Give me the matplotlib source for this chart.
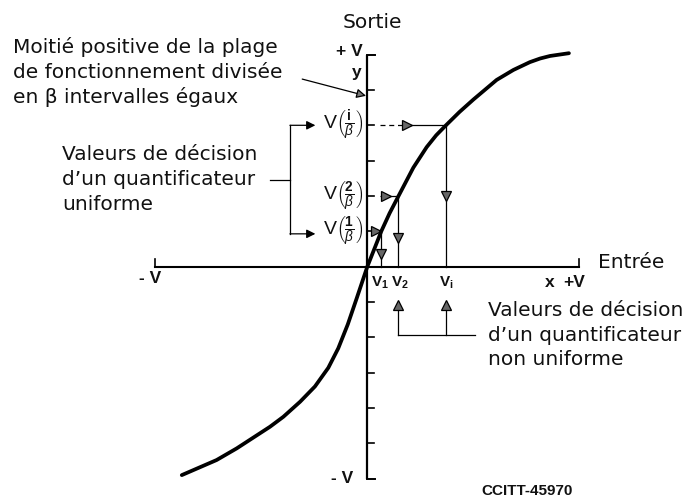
import matplotlib
matplotlib.use("Agg")
import matplotlib.pyplot as plt

# ---------------- data (units of V) ----------------
curve_x = [-0.875, -0.711, -0.616, -0.459, -0.396, -0.317, -0.247, -0.184, -0.137, -0.092, -0.050, 0.0,
           0.066, 0.105, 0.147, 0.217, 0.280, 0.325, 0.371, 0.435, 0.501, 0.610, 0.689, 0.767,
           0.815, 0.862, 0.951]
curve_y = [-0.983, -0.912, -0.857, -0.755, -0.708, -0.637, -0.565, -0.477, -0.385, -0.272, -0.149, 0.0,
           0.167, 0.252, 0.333, 0.467, 0.564, 0.620, 0.667, 0.730, 0.789, 0.881, 0.928, 0.965,
           0.982, 0.994, 1.007]
beta_intervals = 6
decision_levels = [1, 2, 4]
decision_level_names = ["1", "2", "i"]
decision_x = [0.066, 0.147, 0.371]

# ---------------- layout ----------------
plt.rcParams['mathtext.fontset'] = 'custom'
plt.rcParams['mathtext.rm'] = 'Liberation Sans'
plt.rcParams['mathtext.it'] = 'Liberation Sans:italic'
plt.rcParams['mathtext.bf'] = 'Liberation Sans:bold'

fig = plt.figure(figsize=(6.82, 4.97), dpi=100)
ax = fig.add_axes([0, 0, 1, 1])
ax.set_xlim(-1.7325, 1.4844)
ax.set_ylim(-1.0863, 1.2580)
ax.axis('off')

K = 'black'
TXT = dict(family='DejaVu Sans', fontsize=14.5, color='#111111')
LAB = dict(family='Liberation Sans', fontweight='bold', fontsize=12.5, color='#111111')
SUBLAB = dict(family='Liberation Sans', fontweight='bold', fontsize=11, color='#111111')

# axes
ax.plot([0, 0], [-1, 1], color=K, lw=1.6, solid_capstyle='butt')
ax.plot([0, 0.035], [1, 1], color=K, lw=1.4)
ax.plot([0, 0.035], [-1, -1], color=K, lw=1.4)
for k in range(-beta_intervals + 1, beta_intervals):
    if k != 0:
        ax.plot([0, 0.032], [k / beta_intervals] * 2, color=K, lw=1.2)
ax.plot([-1, 1], [0, 0], color=K, lw=1.5)
ax.plot([-1, -1], [0, 0.035], color=K, lw=1.2)
ax.plot([1, 1], [0, 0.035], color=K, lw=1.2)

# curve
ax.plot(curve_x, curve_y, color=K, lw=2.7, solid_joinstyle='round', solid_capstyle='round', zorder=5)

# decision construction lines
h_arrow_x = [0.042, 0.090, 0.188]
v_arrow_y = [0.060, 0.135, 0.335]
dash_start = 0.058
for lvl, xd, hx, vy in zip(decision_levels, decision_x, h_arrow_x, v_arrow_y):
    y = lvl / beta_intervals
    if hx - 0.02 > dash_start:
        ax.plot([dash_start, hx - 0.02], [y, y], color=K, lw=0.9, ls=(0, (4, 3)))
    ax.plot([hx, xd], [y, y], color=K, lw=0.9)
    ax.plot([hx], [y], marker='>', ms=7, mfc='#666666', mec=K, mew=0.9)
    ax.plot([xd, xd], [y, 0], color=K, lw=0.9)
    ax.plot([xd], [vy], marker='v', ms=7, mfc='#666666', mec=K, mew=0.9)

# lower "non uniforme" bracket
for xd in decision_x[1:]:
    ax.plot([xd, xd], [-0.322, -0.165], color=K, lw=0.9)
    ax.plot([xd], [-0.180], marker='^', ms=7, mfc='#666666', mec=K, mew=0.9)
ax.plot([decision_x[1], 0.508], [-0.322, -0.322], color=K, lw=0.9)

# left bracket for uniform decision values
ax.plot([-0.365, -0.365], [0.155, 0.667], color=K, lw=0.9)
ax.plot([-0.459, -0.365], [0.409, 0.409], color=K, lw=0.9)
for yy in [0.667, 0.155]:
    ax.annotate('', xy=(-0.245, yy), xytext=(-0.365, yy),
                arrowprops=dict(arrowstyle='-|>', color=K, lw=0.9, mutation_scale=13,
                                shrinkA=0, shrinkB=0))

# arrow from top-left note
ax.annotate('', xy=(-0.006, 0.806), xytext=(-0.307, 0.885),
            arrowprops=dict(arrowstyle='-|>', ec=K, fc='#777777', lw=0.9, mutation_scale=14,
                            shrinkA=0, shrinkB=0))

# texts
ax.text(0.022, 1.154, "Sortie", ha='center', va='center', **TXT)
ax.text(-0.084, 1.013, "+ V", ha='center', va='center', **LAB)
ax.text(-0.049, 0.918, "y", ha='center', va='center', **LAB)
for i, s in enumerate(["Moitié positive de la plage", "de fonctionnement divisée",
                       "en β intervalles égaux"]):
    ax.text(-1.671, 1.036 - i * 0.118, s, ha='left', va='center', **TXT)
for i, s in enumerate(["Valeurs de décision", "d\u2019un quantificateur", "uniforme"]):
    ax.text(-1.440, 0.531 - i * 0.118, s, ha='left', va='center', **TXT)
for lvl, nm in zip(decision_level_names, decision_levels):
    y = nm / beta_intervals
    ax.text(-0.018, y, r"V$\left(\frac{\mathbf{%s}}{\beta}\right)$" % lvl, ha='right', va='center',
            family='Liberation Sans', fontsize=14, color='#111111')
for i, s in enumerate(["Valeurs de décision", "d\u2019un quantificateur", "non uniforme"]):
    ax.text(0.569, -0.206 - i * 0.117, s, ha='left', va='center', **TXT)
ax.text(1.088, 0.022, "Entrée", ha='left', va='center', **TXT)
ax.text(0.862, -0.073, "x", ha='center', va='center', **LAB)
ax.text(0.975, -0.073, "+V", ha='center', va='center', **LAB)
ax.text(-1.025, -0.058, "- V", ha='center', va='center', **LAB)
ax.text(-0.119, -0.997, "- V", ha='center', va='center', **LAB)
label_dx = [-0.004, 0.008, 0.0]
for xd, nm, dx in zip(decision_x, decision_level_names, label_dx):
    ax.text(xd + dx, -0.075, r"V$_\mathbf{%s}$" % nm, ha='center', va='center', **SUBLAB)
ax.text(0.540, -1.058, "CCITT-45970", ha='left', va='center', family='Liberation Sans',
        fontweight='bold', fontsize=11, color='#111111')

fig.savefig("out.png", dpi=100)
